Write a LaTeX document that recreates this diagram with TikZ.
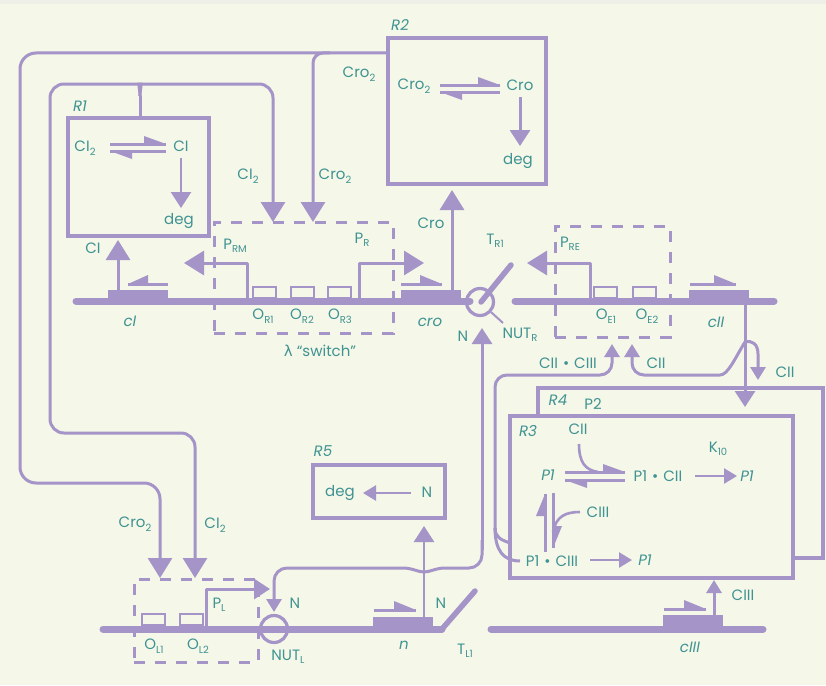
\documentclass[tikz,border=0pt]{standalone}
\usepackage{fontspec}
\setmainfont{Poppins}
\newfontfamily\lamfont{DejaVu Sans}
\usetikzlibrary{arrows.meta,calc}
\definecolor{purp}{HTML}{A594C8}
\definecolor{teal2}{HTML}{3F9392}
\definecolor{paper}{HTML}{F5F7E8}
\definecolor{strip}{HTML}{EEEFE6}
\newcommand\lowtxt[1]{\raisebox{-3.5pt}{\fontsize{10}{10}\selectfont #1}}
\newcommand\bulsep{\hspace{5pt}•\hspace{5pt}}
\newcommand\halfarr[5]{\draw[conn] (#1,#3)--(#2,#3); \fill[purp] (#2,#3) -- ++(#4,#5) -- ++(0,-#5) -- cycle;}
\tikzset{
  conn/.style={draw=purp,line width=3pt,line join=round},
  thinconn/.style={draw=purp,line width=2.6pt,line join=round},
  dna/.style={draw=purp,line width=7pt,line cap=round},
  term/.style={draw=purp,line width=5.5pt,line cap=round},
  framebox/.style={draw=purp,line width=3.6pt,fill=paper,inner sep=0pt,outer sep=0pt,anchor=north west},
  dashbox/.style={draw=purp,line width=3pt,dash pattern=on 11pt off 10pt,inner sep=0pt,outer sep=0pt,anchor=north west},
  opbox/.style={draw=purp,line width=2.6pt,inner sep=0pt,outer sep=0pt,anchor=north west,minimum width=23pt,minimum height=11pt},
  genebox/.style={fill=purp,inner sep=0pt,outer sep=0pt,anchor=north west,minimum width=60pt},
  nutring/.style={draw=purp,line width=3.2pt,circle,inner sep=0pt,minimum size=27pt},
  txt/.style={text=teal2,inner sep=0pt,font=\fontsize{15}{16}\selectfont},
  itxt/.style={txt,font=\fontsize{15}{16}\selectfont\itshape},
  hbig/.style={-{Triangle[width=24pt,length=20pt]}},
  hmid/.style={-{Triangle[width=20pt,length=16pt]}},
  hsmall/.style={-{Triangle[width=15pt,length=13pt]}},
}
\begin{document}
\begin{tikzpicture}[x=1pt,y=-1pt]
\useasboundingbox (0,0) rectangle (826,685);
\fill[paper] (0,0) rectangle (826,685);
\fill[strip] (0,0) rectangle (826,4);

% dashed regions
\node[dashbox,minimum width=179pt,minimum height=111pt] (sw) at (214,222) {};
\node[dashbox,minimum width=115pt,minimum height=111pt] (re) at (555,226) {};
\node[dashbox,minimum width=124pt,minimum height=83pt] (pl) at (134,579) {};

% back box R4
\coordinate (r4a) at (538,416);
\coordinate (r4b) at (538,388);
\coordinate (r4c) at (823,388);
\coordinate (r4d) at (823,558);
\coordinate (r4e) at (793,558);
\draw[draw=purp,line width=3.6pt] (r4a)--(r4b)--(r4c)--(r4d)--(r4e);

% end points of the loops
\coordinate (crAtip) at (160,578);
\coordinate (clBtip) at (195,578);

% boxes
\node[framebox,minimum width=158pt,minimum height=146pt] (R2) at (388,38) {};
\node[framebox,minimum width=141pt,minimum height=118pt] (R1) at (68,118) {};
\node[framebox,minimum width=132pt,minimum height=53pt] (R5) at (313,465) {};

% Cro2 feedback
\draw[conn,hbig,rounded corners=16pt] (R2.west |- 0,53) -- (20,53) -- (20,483) -- (160,483) -- (crAtip);
\draw[conn,rounded corners=10pt,hbig] (330,53) -- (313,53) -- (313,222);
% CI2 feedback
\draw[conn] (R1.north) ++(1.5,0) -- (140,96);
\draw[conn,rounded corners=14pt,hbig] (140,96) .. controls (140,88) and (137,84) .. (128,84) -- (50,84) -- (50,433) -- (195,433) -- (clBtip);
\draw[conn,rounded corners=14pt,hbig] (140,96) .. controls (140,88) and (143,84) .. (152,84) -- (273,84) -- (273,222);

% DNA
\coordinate (d1a) at (76,301); \coordinate (d1b) at (470,301);
\coordinate (d2a) at (515,301); \coordinate (d2b) at (774,301);
\coordinate (d3a) at (103,629); \coordinate (d3b) at (442,629);
\coordinate (d4a) at (491,629); \coordinate (d4b) at (763,629);
\draw[dna] (d1a)--(d1b);
\draw[dna] (d2a)--(d2b);
\draw[dna] (d3a)--(d3b);
\draw[dna] (d4a)--(d4b);
\coordinate (tr) at (511,265);
\coordinate (tl) at (475,591);
\draw[term] (481,302)--(tr);
\draw[term,line cap=round] (d3b)--(tl);

% genes
\node[genebox,minimum height=13pt] (gcI) at (108,290) {};
\node[genebox,minimum height=13pt] (gcro) at (401,290) {};
\node[genebox,minimum height=13pt] (gcII) at (689,290) {};
\node[genebox,minimum height=14pt] (gN) at (373,617) {};
\node[genebox,minimum height=14pt] (gcIII) at (663,615) {};

% gene direction half arrows
\halfarr{168}{128}{284}{20}{-9}
\halfarr{401}{442}{284}{-22}{-9}
\halfarr{690}{736}{284}{-22}{-9}
\halfarr{374}{416}{610}{-22}{-9}
\halfarr{664}{706}{609}{-22}{-9}

% operators
\node[opbox] (oR1) at (253,287) {};
\node[opbox] (oR2) at (291,287) {};
\node[opbox] (oR3) at (328,287) {};
\node[opbox] (oE1) at (594,287) {};
\node[opbox] (oE2) at (633,287) {};
\node[opbox] (oL1) at (142,614) {};
\node[opbox] (oL2) at (180,614) {};

% promoters
\coordinate (pRMtip) at (184,263);
\coordinate (pRtip) at (424,263);
\coordinate (pREtip) at (527,263);
\coordinate (pLtip) at (270,589);
\draw[conn,hbig] (247,300)--(247,263)--(pRMtip);
\draw[conn,hbig] (359,300)--(359,263)--(pRtip);
\draw[conn,hbig] (590,300)--(590,263)--(pREtip);
\draw[conn,hmid] (206,627)--(206,589)--(pLtip);

% products
\draw[conn,hbig] (gcI.north -| 118,0) -- (118,240);
\draw[conn,hbig] (452,290) -- (452,190);
\draw[thinconn,hmid] (424,617) -- (424,526);
\draw[conn,hsmall] (714,615) -- (714,580);

% NUT sites
\node[nutring] (nutR) at (480,302) {};
\node[nutring] (nutL) at (274,629) {};
\draw[draw=purp,line width=2pt] (nutR) -- (503,323);

% N anti-termination line
\coordinate (nEnd) at (482,328);
\coordinate (nLow) at (274,612);
\draw[conn,hmid] (482,550) -- (nEnd);
\draw[conn] (403,568) .. controls (412,568) and (418,572) .. (424,572) .. controls (430,572) and (436,568) .. (445,568);
\draw[conn,rounded corners=13pt] (445,568) -- (482,568) -- (482,540);
\draw[conn,hsmall,rounded corners=13pt] (403,568) -- (274,568) -- (nLow);

% CII output
\coordinate (cIIdown) at (745,407);
\draw[conn,hmid] (745,301) -- (cIIdown);
\draw[conn,hsmall] (745,342) .. controls (752,340) and (758,344) .. (758,354) -- (758,380);
\coordinate (CIItip) at (632,344);
\draw[conn,hsmall,rounded corners=12pt] (745,342) .. controls (735,358) and (728,375) .. (708,375) -- (632,375) -- (CIItip);
% CII.CIII
\coordinate (CCtip) at (612,344);
\draw[conn,hsmall,rounded corners=12pt] (495,530) -- (495,375) -- (612,375) -- (CCtip);
\draw[conn] (495,528) .. controls (495,538) and (502,540) .. (510,543);

% R3 box (in front)
\node[framebox,minimum width=283pt,minimum height=162pt,fill=none] (R3) at (510,416) {};
\draw[conn] (495,528) .. controls (495,550) and (503,561) .. (520,561);

% inside R1
\halfarr{110}{166}{144}{-22}{-8}
\halfarr{166}{110}{151}{22}{8}
\draw[thinconn,hmid] (181,158) -- (181,208);
% inside R2
\halfarr{440}{500}{85}{-22}{-8}
\halfarr{500}{440}{92}{22}{8}
\draw[conn,hmid] (520,97) -- (520,146);
% inside R5
\draw[thinconn,hsmall] (411,493) -- (363,493);

% inside R3
\halfarr{565}{625}{472}{-22}{-8}
\halfarr{625}{565}{480}{22}{8}
\draw[thinconn] (579,444) .. controls (579,462) and (585,470) .. (598,472);
\draw[thinconn,hsmall] (695,476) -- (737,476);
\draw[thinconn,hsmall] (590,560) -- (632,560);
\draw[conn] (545,552)--(545,494); \fill[purp] (545,494) -- ++(-9,22) -- ++(9,0) -- cycle;
\draw[conn] (553,493)--(553,548); \fill[purp] (553,548) -- ++(9,-22) -- ++(-9,0) -- cycle;
\draw[thinconn] (580,512) .. controls (566,512) and (556,516) .. (553,532);

% labels
\node[itxt] (lR2) at (400,25) {R2};
\node[itxt] (lR1) at (80,106) {R1};
\node[itxt] (lR5) at (323,451) {R5};
\node[itxt] (lR4) at (558,400) {R4};
\node[itxt] (lR3) at (528,431) {R3};
\node[txt] (lP2) at (593,404) {P2};
\node[txt] (a1) at (359,74) {Cro\lowtxt{2}};
\node[txt] (a2) at (335,176) {Cro\lowtxt{2}};
\node[txt] (a3) at (248,176) {CI\lowtxt{2}};
\node[txt] (a4) at (85,148) {CI\lowtxt{2}};
\node[txt] (a5) at (181,146) {CI};
\node[txt] (a6) at (179,221) {deg};
\node[txt] (a7) at (93,248) {CI};
\node[txt] (a8) at (414,86) {Cro\lowtxt{2}};
\node[txt] (a9) at (520,85) {Cro};
\node[txt] (a10) at (518,161) {deg};
\node[txt] (a11) at (431,223) {Cro};
\node[itxt] (a12) at (130,321) {cI};
\node[itxt] (a13) at (430,322) {cro};
\node[itxt] (a14) at (716,322) {cII};
\node[itxt] (a15) at (404,645) {n};
\node[itxt] (a16) at (690,647) {cIII};
\node[txt] (a17) at (235,246) {P\lowtxt{RM}};
\node[txt] (a18) at (362,240) {P\lowtxt{R}};
\node[txt] (a19) at (570,244) {P\lowtxt{RE}};
\node[txt] (a20) at (219,605) {P\lowtxt{L}};
\node[txt] (a21) at (263,316) {O\lowtxt{R1}};
\node[txt] (a22) at (302,316) {O\lowtxt{R2}};
\node[txt] (a23) at (340,316) {O\lowtxt{R3}};
\node[txt] (a24) at (606,316) {O\lowtxt{E1}};
\node[txt] (a25) at (647,316) {O\lowtxt{E2}};
\node[txt] (a26) at (154,646) {O\lowtxt{L1}};
\node[txt] (a27) at (198,646) {O\lowtxt{L2}};
\node[txt] (a28) at (320,351) {{\lamfont λ} “switch”};
\node[txt] (a29) at (495,241) {T\lowtxt{R1}};
\node[txt] (a30) at (463,336) {N};
\node[txt] (a31) at (520,335) {NUT\lowtxt{R}};
\node[txt] (a32) at (288,657) {NUT\lowtxt{L}};
\node[txt] (a33) at (295,603) {N};
\node[txt] (a34) at (441,603) {N};
\node[txt] (a35) at (465,651) {T\lowtxt{L1}};
\node[txt] (a36) at (135,524) {Cro\lowtxt{2}};
\node[txt] (a37) at (215,525) {CI\lowtxt{2}};
\node[txt] (a38) at (340,493) {deg};
\node[txt] (a39) at (427,492) {N};
\node[txt] (a40) at (568,363) {CII\bulsep CIII};
\node[txt] (a41) at (656,363) {CII};
\node[txt] (a42) at (785,372) {CII};
\node[txt] (a43) at (578,429) {CII};
\node[itxt] (a44) at (548,475) {P1};
\node[txt] (a45) at (658,476) {P1\bulsep CII};
\node[itxt] (a46) at (747,476) {P1};
\node[txt] (a47) at (718,449) {K\lowtxt{10}};
\node[txt] (a48) at (598,512) {CIII};
\node[txt] (a49) at (552,561) {P1\bulsep CIII};
\node[itxt] (a50) at (645,560) {P1};
\node[txt] (a51) at (743,595) {CIII};
\end{tikzpicture}
\end{document}
